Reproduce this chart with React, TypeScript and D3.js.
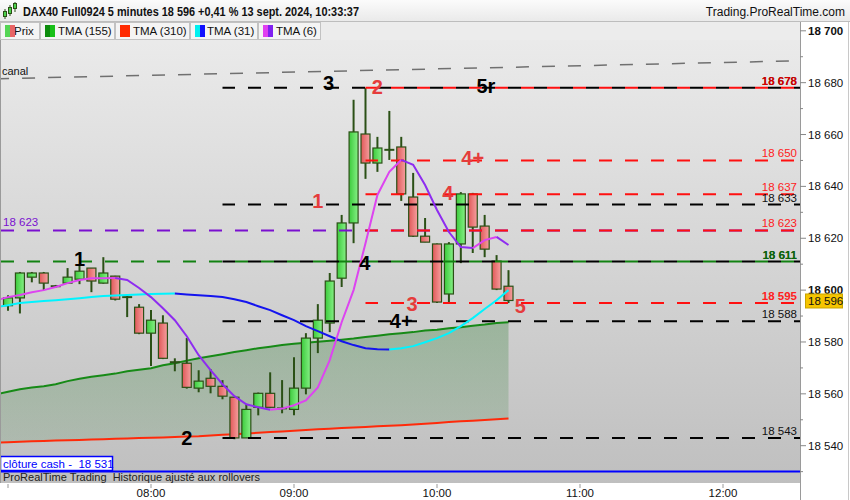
import React from 'react';
import * as d3 from 'd3';

const W = 850;
const H = 500;
const FONT = '"Liberation Sans", Arial, Helvetica, sans-serif';

// 5-minute candles starting 07:00 (13 sept. 2024)
const opens = [18594, 18597, 18605, 18606.6, 18601.5, 18602.7, 18604.2, 18608.5, 18602.7, 18605.4, 18597.3, 18593.4, 18583.4, 18587.3, 18572.2, 18571.8, 18562.2, 18566, 18562.9, 18558.7, 18543, 18554.8, 18560.2, 18554.4, 18554, 18562.2, 18581.5, 18587.3, 18604.6, 18625.9, 18660.2, 18649, 18654.1, 18655.2, 18635.9, 18620.8, 18617.8, 18598.5, 18617.8, 18637.1, 18624.7, 18611.2, 18601.5];
const highs = [18598, 18607, 18607, 18607, 18602, 18608.5, 18609.7, 18608.5, 18612.7, 18605.5, 18598.5, 18594.6, 18592.3, 18590.3, 18573.7, 18581.5, 18569.1, 18569.5, 18565.3, 18558.7, 18556, 18560.5, 18568.3, 18565.3, 18574.1, 18583.4, 18594.6, 18606.6, 18629, 18673.4, 18678, 18659.1, 18669.1, 18659.1, 18645.2, 18627.8, 18618, 18618.5, 18637.8, 18637.5, 18629, 18613.5, 18607.7];
const lows = [18592, 18591, 18603, 18600, 18601, 18602.5, 18602.3, 18599.2, 18602.5, 18596, 18589.6, 18583, 18570.7, 18573.4, 18568.7, 18562, 18560.6, 18560.2, 18557.9, 18542.5, 18543, 18551.7, 18554.5, 18552.5, 18551.7, 18559.8, 18575.7, 18583.8, 18601.2, 18618.1, 18642.9, 18645.6, 18650.2, 18634.4, 18620.5, 18618.5, 18595, 18595, 18610.4, 18614.3, 18612.7, 18600, 18595];
const closes = [18597, 18606.6, 18606.6, 18602.7, 18601.5, 18605, 18607.3, 18603.5, 18606.6, 18596.5, 18597.3, 18583.4, 18588.4, 18573.7, 18572.2, 18562.5, 18564.9, 18562.9, 18559.1, 18543, 18554, 18560.2, 18554.8, 18554.4, 18562.2, 18581.5, 18588.4, 18603.5, 18625.9, 18661, 18649, 18654.8, 18654.1, 18637.1, 18620.8, 18618.5, 18595.4, 18617.8, 18637.1, 18624.3, 18615.8, 18600.4, 18596];

// moving averages, one value per bar starting one bar before 07:00 (06:55)
const tma155 = [18559.8, 18560.8, 18561.8, 18562.4, 18562.9, 18563.7, 18564.9, 18565.8, 18566.6, 18567.2, 18567.8, 18568.7, 18569.3, 18569.9, 18571, 18571.8, 18572.8, 18573.7, 18574.5, 18575.3, 18576.1, 18576.8, 18577.6, 18578.2, 18578.8, 18579.3, 18579.7, 18580.1, 18580.5, 18580.9, 18581.3, 18581.9, 18582.4, 18583, 18583.4, 18583.8, 18584.4, 18584.7, 18585.3, 18585.7, 18586.3, 18586.7, 18587.3, 18587.6];
const tma310 = [18541.2, 18541.3, 18541.5, 18541.7, 18541.8, 18542, 18542.1, 18542.2, 18542.4, 18542.5, 18542.7, 18542.8, 18543, 18543.1, 18543.2, 18543.4, 18543.5, 18543.6, 18543.9, 18544.2, 18544.4, 18544.7, 18545, 18545.3, 18545.5, 18545.8, 18546.1, 18546.3, 18546.5, 18546.8, 18547, 18547.2, 18547.5, 18547.7, 18547.9, 18548.2, 18548.5, 18548.8, 18549.1, 18549.4, 18549.6, 18549.9, 18550.2, 18550.5];
const tma31 = [18593.4, 18594.2, 18595, 18595.4, 18595.8, 18596.1, 18596.5, 18596.9, 18597.3, 18597.7, 18597.9, 18598.1, 18598.3, 18598.5, 18598.6, 18598.7, 18598.3, 18598, 18597.7, 18597.3, 18596.5, 18595.4, 18593.8, 18592.3, 18590.3, 18588.4, 18586.1, 18584.2, 18582.2, 18580.3, 18578.8, 18577.6, 18577.2, 18577.1, 18577.6, 18578.4, 18579.9, 18581.5, 18583.4, 18586.1, 18589.2, 18592.7, 18596.1, 18600];
const tma6 = [18596.1, 18597.3, 18598.1, 18599.2, 18600, 18601.2, 18602.7, 18603.9, 18604.6, 18604.6, 18604.7, 18603.9, 18600.8, 18597.3, 18593, 18588.4, 18582.2, 18574.9, 18569.1, 18563.7, 18559.1, 18556, 18554.8, 18553.9, 18554.3, 18555.6, 18557.5, 18562.5, 18573, 18587.6, 18600, 18618.1, 18636.7, 18645.6, 18650.2, 18648.3, 18640.5, 18630.9, 18622.4, 18616.6, 18616.2, 18619.3, 18620.5, 18617.4];

// horizontal levels
const levelsBlack = [18678, 18633, 18611, 18588, 18543];
const levelsRed = [18678, 18650, 18637, 18623, 18595];
const levelPurple = 18623;
const levelGreen = 18611;
const cashClose = 18531;
const lastPrice = 18596;
const canalValues = [18681.5, 18688.5]; // at 06:55 and 12:35

// right-side level labels
const rightLabels = [
  { v: 18678, text: '18 678', color: '#d40000', bold: true },
  { v: 18650, text: '18 650', color: '#ff2020', bold: false },
  { v: 18637, text: '18 637', color: '#ff2020', bold: false },
  { v: 18633, text: '18 633', color: '#111111', bold: false },
  { v: 18623, text: '18 623', color: '#ff2020', bold: false },
  { v: 18611, text: '18 611', color: '#0a6a0a', bold: true },
  { v: 18595, text: '18 595', color: '#ff2020', bold: true },
  { v: 18588, text: '18 588', color: '#111111', bold: false },
  { v: 18543, text: '18 543', color: '#111111', bold: false },
];

// annotations: bar index and price level
const annotations = [
  { i: 26.9, v: 18678, text: '3', color: '#000', dy: 2 },
  { i: 31.0, v: 18678, text: '2', color: '#e53c3c', dy: 6 },
  { i: 40.1, v: 18678, text: '5r', color: '#000', dy: 5 },
  { i: 39.0, v: 18650, text: '4+', color: '#e53c3c', dy: 4.5 },
  { i: 36.9, v: 18637, text: '4', color: '#e53c3c', dy: 6 },
  { i: 26.0, v: 18633, text: '1', color: '#e53c3c', dy: 3.5 },
  { i: 29.95, v: 18611, text: '4', color: '#000', dy: 8 },
  { i: 6.0, v: 18611, text: '1', color: '#000', dy: 4 },
  { i: 33.9, v: 18595, text: '3', color: '#e53c3c', dy: 8 },
  { i: 43.0, v: 18595, text: '5', color: '#e53c3c', dy: 10 },
  { i: 33.0, v: 18588, text: '4+', color: '#000', dy: 6.5 },
  { i: 15.0, v: 18543, text: '2', color: '#000', dy: 7 },
];

const hourTicks = [8, 9, 10, 11, 12];
const legendItems = [
  { label: 'Prix', c1: '#55d555', c2: '#e86464', x: 0, w: 39, tx: 14 },
  { label: 'TMA (155)', c1: '#0c8c0c', c2: '#18c018', x: 40, w: 74, tx: 58 },
  { label: 'TMA (310)', c1: '#ff2a00', c2: '#ff2a00', x: 115, w: 74, tx: 133 },
  { label: 'TMA (31)', c1: '#00f0f0', c2: '#1010ff', x: 190, w: 67, tx: 207 },
  { label: 'TMA (6)', c1: '#e040f0', c2: '#8020f0', x: 258, w: 62, tx: 276 },
];

const fmt = d3.formatLocale({ decimal: ',', thousands: ' ', grouping: [3], currency: ['', ''] }).format(',d');

export default function App() {
  const day = (h: number, m = 0) => new Date(2024, 8, 13, h, m);
  const x = d3.scaleTime().domain([day(7), day(12)]).range([8, 723]);
  const y = d3.scaleLinear().domain([18540, 18700]).range([445.7, 30.8]);
  const xi = (i: number) => x(new Date(day(7).getTime() + i * 5 * 60000));
  const xm = (k: number) => xi(k - 1);

  const PL = 0, PR = 800, PT = 40, PB = 483;

  const area = d3.area<number>()
    .x((_, k) => xm(k))
    .y0((_, k) => y(tma310[k]))
    .y1((_, k) => y(tma155[k]));
  const line = d3.line<[number, number]>();
  const maLine = (vals: number[]) => d3.line<number>().x((_, k) => xm(k)).y((d) => y(d))(vals) || '';

  function slopeSegs(vals: number[], up: string, down: string) {
    const segs: { color: string; pts: [number, number][] }[] = [];
    let cur: { color: string; pts: [number, number][] } | null = null;
    for (let k = 1; k < vals.length; k++) {
      const color = vals[k] >= vals[k - 1] ? up : down;
      const p0: [number, number] = [xm(k - 1), y(vals[k - 1])];
      const p1: [number, number] = [xm(k), y(vals[k])];
      if (!cur || cur.color !== color) {
        cur = { color, pts: [p0] };
        segs.push(cur);
      }
      cur.pts.push(p1);
    }
    return segs;
  }

  const dash = (v: number, x0: number, color: string, phase: number, key: string) => {
    const off = (((x0 - phase) % 26) + 26) % 26;
    return (
      <line key={key} x1={x0} x2={PR} y1={y(v)} y2={y(v)} stroke={color} strokeWidth={2}
        strokeDasharray="13,13" strokeDashoffset={off} />
    );
  };

  const blackStart = x(day(8, 30));
  const redStart = x(day(9, 30));

  const canalX0 = x(day(6, 55));
  const canalX1 = x(day(12, 35));

  const axisTicks = d3.range(18530, 18701, 10);

  return (
    <svg width={W} height={H} style={{ display: 'block', position: 'absolute', left: 0, top: 0 }} fontFamily={FONT}>
      <defs>
        <linearGradient id="bg" x1="0" y1="0" x2="0" y2="1">
          <stop offset="0" stopColor="#ececec" />
          <stop offset="1" stopColor="#bfbfbf" />
        </linearGradient>
        <linearGradient id="hdr" x1="0" y1="0" x2="0" y2="1">
          <stop offset="0" stopColor="#fbfbfb" />
          <stop offset="1" stopColor="#e9e9e9" />
        </linearGradient>
        <linearGradient id="gUp" x1="0" y1="0" x2="1" y2="0">
          <stop offset="0" stopColor="#3ccb3c" />
          <stop offset="1" stopColor="#86f086" />
        </linearGradient>
        <linearGradient id="gDn" x1="0" y1="0" x2="1" y2="0">
          <stop offset="0" stopColor="#e05858" />
          <stop offset="1" stopColor="#f5a0a0" />
        </linearGradient>
        <linearGradient id="gFill" x1="0" y1="0" x2="0" y2="1">
          <stop offset="0" stopColor="#2e7d32" stopOpacity={0.32} />
          <stop offset="1" stopColor="#2e7d32" stopOpacity={0.14} />
        </linearGradient>
        <clipPath id="plot">
          <rect x={PL} y={PT} width={PR - PL} height={PB - PT} />
        </clipPath>
      </defs>

      {/* header */}
      <rect x={0} y={0} width={W} height={22} fill="url(#hdr)" />
      <line x1={0} x2={W} y1={21.5} y2={21.5} stroke="#bdbdbd" />
      <g>
        <line x1={5} x2={5} y1={9} y2={19} stroke="#2b5016" />
        <rect x={3.5} y={11.5} width={3} height={5} fill="#4cd34c" stroke="#2b5016" />
        <line x1={10} x2={10} y1={5} y2={16} stroke="#2b5016" />
        <rect x={8.5} y={7.5} width={3} height={6} fill="#4cd34c" stroke="#2b5016" />
        <line x1={15} x2={15} y1={2} y2={12} stroke="#2b5016" />
        <rect x={13.5} y={3.5} width={3} height={5} fill="#4cd34c" stroke="#2b5016" />
      </g>
      <text x={23} y={16} fontSize={12} fontWeight="bold" fill="#111" textLength={336} lengthAdjust="spacingAndGlyphs">
        DAX40 Full0924 5 minutes 18 596 +0,41 % 13 sept. 2024, 10:33:37
      </text>
      <text x={845} y={16} fontSize={12} fill="#111" textAnchor="end">Trading.ProRealTime.com</text>

      {/* plot background */}
      <rect x={0} y={22} width={PR} height={PB - 22} fill="url(#bg)" />
      <rect x={0} y={22} width={PR} height={18} fill="#ececec" />

      <g clipPath="url(#plot)">
        <path d={area(tma155) || ''} fill="url(#gFill)" />
        <path d={maLine(tma310)} fill="none" stroke="#ff2a0a" strokeWidth={2} />
        <path d={maLine(tma155)} fill="none" stroke="#178a17" strokeWidth={2} />

        {/* canal */}
        <line x1={canalX0} x2={canalX1} y1={y(canalValues[0])} y2={y(canalValues[1])}
          stroke="#707070" strokeWidth={1.5} strokeDasharray="13,13" />

        {/* candles */}
        {opens.map((o, i) => {
          const c = closes[i];
          const cx = xi(i);
          const top = y(Math.max(o, c));
          const bot = y(Math.min(o, c));
          const up = c >= o;
          const doji = bot - top < 1.5;
          return (
            <g key={'c' + i}>
              <line x1={cx} x2={cx} y1={y(highs[i])} y2={y(lows[i])} stroke="#2b5016" strokeWidth={2} />
              {doji ? (
                <line x1={cx - 5} x2={cx + 5} y1={top} y2={top} stroke="#2b5016" strokeWidth={2} />
              ) : (
                <rect x={cx - 4.5} y={top} width={9} height={bot - top} fill={up ? 'url(#gUp)' : 'url(#gDn)'}
                  stroke="#2b5016" strokeWidth={1.2} />
              )}
            </g>
          );
        })}

        {/* dashed levels */}
        {dash(levelPurple, 0, '#7a10d0', 1, 'pur')}
        {dash(levelGreen, 0, '#128212', 1, 'grn')}
        {levelsBlack.map((v, k) => dash(v, blackStart, '#000', 14, 'b' + k))}
        {levelsRed.map((v, k) => dash(v, redStart, '#ff1010', 1, 'r' + k))}

        {/* TMA 31 & 6 */}
        {slopeSegs(tma31, '#00f4ff', '#1414ee').map((s, k) => (
          <path key={'t31' + k} d={line(s.pts) || ''} fill="none" stroke={s.color} strokeWidth={2} />
        ))}
        {slopeSegs(tma6, '#dd44f0', '#8e2cf0').map((s, k) => (
          <path key={'t6' + k} d={line(s.pts) || ''} fill="none" stroke={s.color} strokeWidth={2} />
        ))}

        {/* annotations */}
        {annotations.map((a, k) => (
          <text key={'a' + k} x={xi(a.i)} y={y(a.v) + a.dy} fontSize={20} fontWeight="bold"
            fill={a.color} textAnchor="middle">{a.text}</text>
        ))}

        {/* right-side level labels */}
        {rightLabels.filter((l) => l.v === 18678 || l.v === 18611).map((l, k) => (
          <text key={'rb' + k} x={797} y={y(l.v) - 3} fontSize={11.5} fill="#000" textAnchor="end">{l.text}</text>
        ))}
        {rightLabels.map((l, k) => (
          <text key={'rl' + k} x={797} y={y(l.v) - 3} fontSize={11.5} fill={l.color}
            fontWeight={l.bold ? 'bold' : 'normal'} textAnchor="end">{l.text}</text>
        ))}
        <text x={3} y={y(levelPurple) - 4} fontSize={11.5} fill="#7a10d0">{fmt(levelPurple)}</text>
        <text x={2} y={y(canalValues[0]) - 4} fontSize={11} fill="#111">canal</text>

        {/* cash close */}
        <line x1={0} x2={PR} y1={y(cashClose) + 2.5} y2={y(cashClose) + 2.5} stroke="#0000ff" strokeWidth={2} />
        <rect x={0.5} y={456.5} width={112} height={14} fill="#fff" stroke="#0000ff" strokeWidth={1.5} />
        <text x={3} y={468} fontSize={11.5} fill="#0000ff" style={{ whiteSpace: 'pre' }}>{'clôture cash -  ' + fmt(cashClose)}</text>
        <text x={3} y={481} fontSize={11} fill="#222" style={{ whiteSpace: 'pre' }}>ProRealTime Trading  Historique ajusté aux rollovers</text>
      </g>

      {/* legend */}
      {legendItems.map((it, k) => (
        <g key={'lg' + k}>
          <rect x={it.x + 0.5} y={22.5} width={it.w} height={17} fill="#f4f4f4" stroke="#c2c2c2" />
          <text x={it.tx} y={35} fontSize={11.5} fill="#111">{it.label}</text>
          <rect x={it.x + 5} y={25} width={5} height={12} fill={it.c1} />
          <rect x={it.x + 10} y={25} width={5} height={12} fill={it.c2} />
        </g>
      ))}

      {/* left border */}
      <line x1={0.5} x2={0.5} y1={40} y2={PB} stroke="#9a9a9a" />

      {/* x axis */}
      <rect x={0} y={PB} width={PR} height={H - PB} fill="#fff" />
      <line x1={8} x2={8} y1={PB + 1} y2={PB + 5} stroke="#999" />
      {hourTicks.map((h) => (
        <g key={'h' + h}>
          <line x1={x(day(h))} x2={x(day(h))} y1={PB + 1} y2={PB + 5} stroke="#999" />
          <text x={x(day(h))} y={497} fontSize={11.5} fill="#111" textAnchor="middle">{d3.timeFormat('%H:%M')(day(h))}</text>
        </g>
      ))}

      {/* right axis */}
      <rect x={PR} y={22} width={W - PR} height={H - 22} fill="#fff" />
      <line x1={PR + 0.5} x2={PR + 0.5} y1={22} y2={H} stroke="#9a9a9a" />
      <line x1={848.5} x2={848.5} y1={22} y2={H} stroke="#c8c8c8" />
      {axisTicks.map((v) => {
        const major = v % 20 === 0 && v >= 18540;
        return (
          <g key={'yt' + v}>
            <line x1={PR} x2={PR + (major ? 6 : 3)} y1={y(v)} y2={y(v)} stroke="#888" />
            {major && (
              <text x={808} y={y(v) + 4} fontSize={11.5} fill="#111"
                fontWeight={v === 18700 || v === 18600 ? 'bold' : 'normal'}>{fmt(v)}</text>
            )}
          </g>
        );
      })}
      <rect x={805.5} y={y(lastPrice) - 6.5} width={37} height={14} fill="#f6c500" stroke="#c9a400" />
      <text x={808} y={y(lastPrice) + 5} fontSize={11.5} fill="#111">{fmt(lastPrice)}</text>
    </svg>
  );
}
